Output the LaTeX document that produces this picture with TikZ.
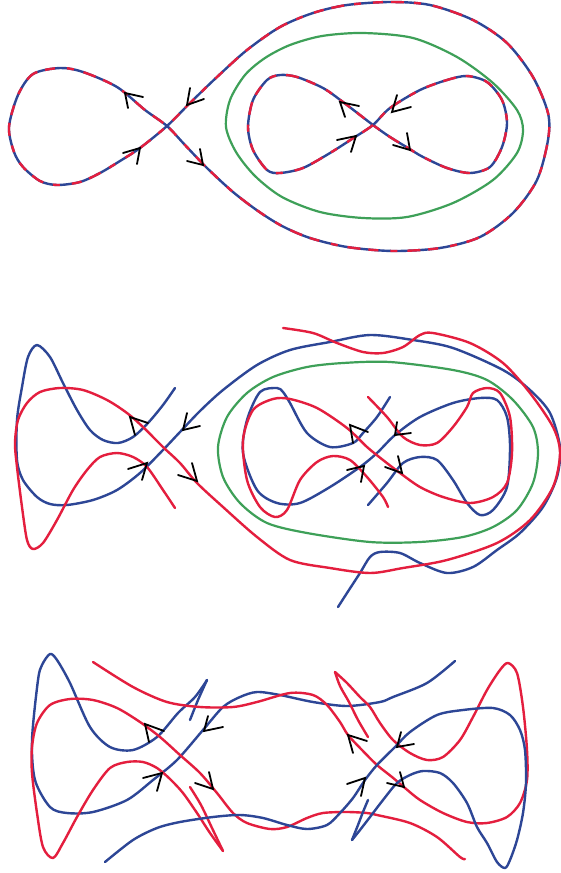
\documentclass[tikz,border=0pt]{standalone}
\definecolor{cred}{RGB}{228,30,62}
\definecolor{cblue}{RGB}{45,70,150}
\definecolor{cgreen}{RGB}{62,160,88}
\tikzset{
 crv/.style={line width=2.4pt,line cap=round,line join=round},
 rc/.style={crv,draw=cred},
 bc/.style={crv,draw=cblue},
 gc/.style={crv,draw=cgreen,line width=2.2pt},
 mixc/.style={crv,draw=cred,line cap=butt,dash pattern=on 13pt off 10pt on 7pt off 12pt on 10pt off 8pt},
 chevron/.style={draw=black,line width=1.8pt,line cap=round,line join=miter}
}
\newcommand\arrowmark[3]{\draw[chevron] #2 -- #1 -- #3;}
\begin{document}
\begin{tikzpicture}[x=1pt,y=-1pt]
\useasboundingbox[fill=white] (0,0) rectangle (561,873);
% ================= TOP PANEL =================
\def\outerA{(167,126) (145,110) (117,87) (83,72) (60,68) (33,74) (18,95) (9,127) (14,152) (23,167) (40,181) (57,185) (80,182) (100,173) (120,161) (140,148) (167,126) (190,103) (217,77) (247,50) (280,27) (313,13) (347,5) (390,2) (430,5) (473,20) (507,43) (533,77) (548,113) (548,140) (537,180) (513,213) (480,237) (440,248) (393,251) (347,247) (310,238) (282,226) (258,211) (233,192) (207,168) (185,145)}
\def\innerA{(373,125) (390,108) (420,90) (447,80) (467,76) (487,82) (502,100) (507,123) (502,147) (490,167) (470,173) (447,168) (423,157) (408,148) (390,137) (373,125) (343,102) (323,88) (297,77) (280,75) (267,80) (253,100) (248,127) (253,150) (267,170) (280,173) (303,168) (330,153) (355,137)}
\draw[bc] plot[smooth cycle] coordinates {\outerA};
\draw[mixc] plot[smooth cycle] coordinates {\outerA};
\draw[bc] plot[smooth cycle] coordinates {\innerA};
\draw[mixc] plot[smooth cycle] coordinates {\innerA};
\draw[gc] plot[smooth cycle] coordinates {(363,33) (413,38) (457,57) (493,83) (517,110) (523,130) (517,153) (493,180) (453,203) (407,217) (363,218) (320,212) (282,197) (255,176) (236,152) (226,127) (230,100) (245,75) (265,58) (290,45) (322,36)};
\arrowmark{(125,93)}{(143,97)}{(128,108)}
\arrowmark{(140,148)}{(123,153)}{(137,164)}
\arrowmark{(187,105)}{(190,88)}{(204,99)}
\arrowmark{(203,165)}{(200,149)}{(187,161)}
\arrowmark{(340,102)}{(359,106)}{(345,117)}
\arrowmark{(392,112)}{(397,95)}{(411,107)}
\arrowmark{(356,136)}{(337,140)}{(351,152)}
\arrowmark{(410,150)}{(407,133)}{(393,145)}
% ================= MIDDLE PANEL =================
\draw[gc] plot[smooth cycle] coordinates {(390,362) (453,370) (487,380) (513,400) (533,427) (538,453) (533,483) (517,510) (493,527) (463,537) (420,542) (370,542) (307,533) (267,523) (240,503) (223,477) (218,447) (227,417) (247,393) (273,377) (307,367) (343,363)};
\draw[bc] plot[smooth] coordinates {(175,388) (163,405) (148,423) (133,437) (118,443) (103,440) (90,430) (77,410) (63,383) (50,357) (37,345) (28,357) (22,387) (17,420) (17,460) (23,480) (37,497) (50,504) (67,505) (93,500) (117,490) (140,473) (163,450) (180,432) (200,411) (223,390) (257,365) (290,350) (330,342) (370,335) (413,340) (453,348) (503,370) (530,390) (550,413) (560,447) (557,477) (543,507) (520,533) (497,550) (473,567) (447,573) (420,563) (400,553) (380,552) (370,557) (360,573) (347,593) (338,607)};
\draw[rc] plot[smooth] coordinates {(175,508) (163,490) (147,467) (133,457) (117,453) (100,457) (87,470) (73,490) (57,520) (43,543) (33,549) (27,540) (22,507) (17,467) (15,443) (18,420) (27,403) (40,392) (60,388) (83,390) (107,400) (127,413) (143,427) (163,447) (180,463) (197,483) (223,507) (257,537) (290,560) (330,568) (370,573) (403,568) (447,560) (497,543) (530,520) (553,487) (560,453) (553,427) (530,393) (503,363) (470,343) (433,333) (420,335) (403,347) (383,353) (363,352) (337,343) (313,333) (283,328)};
\draw[bc] plot[smooth] coordinates {(390,397) (377,417) (363,433) (353,443) (330,447) (307,433) (290,403) (283,392) (277,388) (260,392) (247,420) (243,453) (257,490) (277,503) (300,503) (330,487) (360,467) (377,453) (395,435) (420,417) (453,403) (480,398) (497,400) (507,417) (510,447) (507,487) (493,510) (480,515) (467,503) (453,480) (437,460) (420,457) (403,463) (387,483) (368,505)};
\draw[rc] plot[smooth] coordinates {(368,397) (387,417) (403,437) (420,445) (437,443) (453,427) (467,407) (473,393) (487,388) (500,393) (510,417) (512,453) (507,483) (493,497) (470,503) (443,497) (420,487) (400,473) (383,460) (367,447) (347,428) (317,408) (290,399) (273,399) (253,410) (243,440) (247,480) (260,507) (275,517) (287,510) (300,480) (317,462) (333,456) (350,460) (367,477) (383,497) (388,507)};
\arrowmark{(130,417)}{(148,423)}{(135,435)}
\arrowmark{(147,463)}{(128,469)}{(142,480)}
\arrowmark{(183,430)}{(187,413)}{(200,426)}
\arrowmark{(197,481)}{(192,463)}{(178,475)}
\arrowmark{(350,425)}{(368,432)}{(353,443)}
\arrowmark{(395,435)}{(397,422)}{(411,433)}
\arrowmark{(364,466)}{(347,470)}{(361,482)}
\arrowmark{(402,473)}{(398,456)}{(385,467)}
% ================= BOTTOM PANEL =================
\draw[bc] plot[smooth] coordinates {(190,720) (198,700) (207,680)};
\draw[bc] plot[smooth] coordinates {(207,680) (195,697) (178,713) (157,737) (133,750) (110,747) (90,727) (70,683) (57,660) (50,654) (42,665) (38,680) (32,740) (35,780) (50,807) (67,813) (93,812) (127,800) (153,780) (177,760) (203,730) (223,707) (240,697) (257,692) (280,695) (313,702) (347,706) (380,702) (393,697) (427,683) (455,661)};
\draw[rc] plot[smooth] coordinates {(190,787) (201,805) (212,828) (223,851)};
\draw[rc] plot[smooth] coordinates {(223,851) (210,833) (197,813) (183,793) (170,779) (157,768) (143,762) (127,762) (110,768) (93,790) (77,817) (63,843) (53,858) (43,847) (37,813) (32,773) (32,747) (37,723) (50,705) (70,699) (93,700) (117,708) (140,722) (160,737) (180,755) (200,773) (217,793) (233,813) (247,823) (270,829) (287,827) (307,818) (323,813) (347,812) (367,813) (377,815) (410,823) (437,837) (460,857) (465,859)};
\draw[rc] plot[smooth] coordinates {(93,662) (133,687) (167,702) (200,707) (233,707) (257,702) (290,693) (313,695) (327,705) (340,722) (348,735) (362,750) (377,765) (392,777) (405,788) (420,800) (443,813) (467,822) (487,823) (507,817) (520,803) (527,780) (527,750) (523,707) (517,673) (508,663) (500,670) (487,690) (473,717) (460,740) (443,757) (427,760) (410,753) (393,740) (380,723) (370,707) (360,697) (347,683) (335,672)};
\draw[rc] plot[smooth] coordinates {(335,672) (340,686) (349,702) (358,720) (368,737)};
\draw[bc] plot[smooth] coordinates {(105,862) (133,840) (157,828) (180,822) (213,817) (240,815) (263,818) (287,825) (307,829) (327,825) (340,813) (353,798) (365,780) (377,765) (395,747) (410,732) (437,715) (463,710) (493,708) (510,715) (520,730) (525,750) (526,783) (523,813) (517,840) (510,860) (505,868) (497,862) (487,843) (477,827) (467,803) (453,783) (440,773) (423,771) (410,775) (397,783) (383,800) (370,817) (360,830) (352,840)};
\draw[bc] plot[smooth] coordinates {(352,840) (358,825) (363,812) (368,800)};
\arrowmark{(145,724)}{(164,731)}{(149,742)}
\arrowmark{(162,773)}{(143,778)}{(157,791)}
\arrowmark{(204,731)}{(208,716)}{(223,727)}
\arrowmark{(213,789)}{(209,772)}{(195,783)}
\arrowmark{(348,735)}{(367,741)}{(353,753)}
\arrowmark{(397,747)}{(401,732)}{(414,744)}
\arrowmark{(365,778)}{(347,784)}{(361,796)}
\arrowmark{(404,787)}{(400,772)}{(387,783)}
\end{tikzpicture}
\end{document}
